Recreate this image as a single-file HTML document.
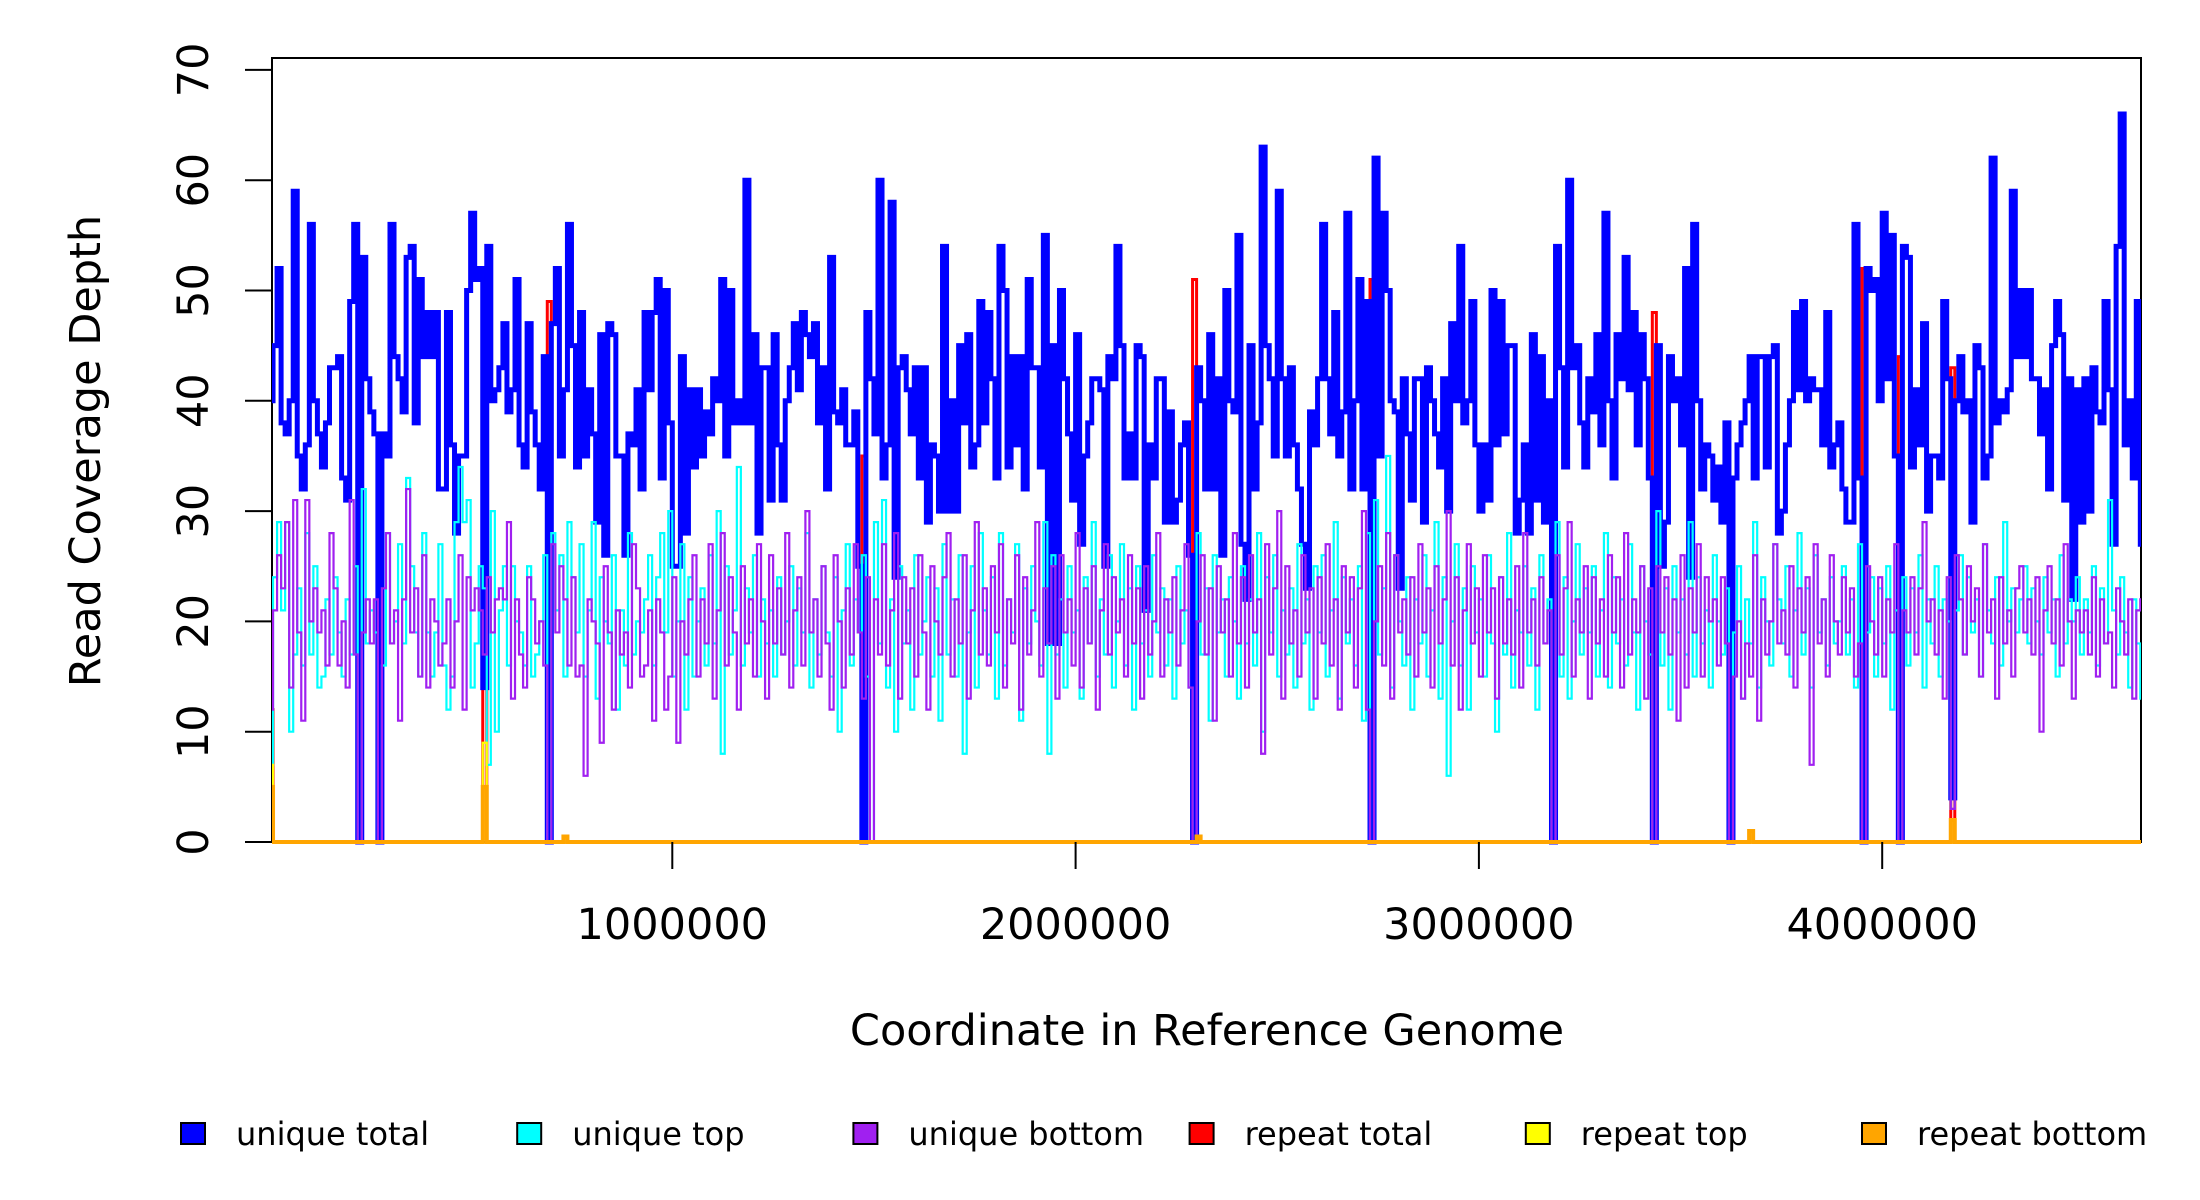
<!DOCTYPE html>
<html><head><meta charset="utf-8"><style>
html,body{margin:0;padding:0;background:#fff;}
svg{display:block;font-family:"DejaVu Sans","Liberation Sans",sans-serif;}
</style></head><body>
<svg id="chart" width="2200" height="1200" viewBox="0 0 2200 1200" xmlns="http://www.w3.org/2000/svg">
<defs><clipPath id="plotclip"><rect x="272" y="58" width="1869" height="790"/></clipPath></defs>
<rect x="0" y="0" width="2200" height="1200" fill="#fff"/>
<rect x="272" y="58" width="1869" height="784" fill="none" stroke="#000" stroke-width="2"/>
<g id="series" clip-path="url(#plotclip)"></g>
<g id="yaxis"></g>
<g id="xaxis"></g>
<text x="1207" y="1045" font-size="43" text-anchor="middle">Coordinate in Reference Genome</text>
<text x="100" y="451" font-size="43" text-anchor="middle" transform="rotate(-90 100 451)">Read Coverage Depth</text>
<g id="legend"></g>
</svg>
<script>
const binSize = 10000;
const genomeLength = 4642000;
const yTicks = [0,10,20,30,40,50,60,70];
const xTicks = [1000000,2000000,3000000,4000000];
const xTickLabels = ["1000000","2000000","3000000","4000000"];
const legendLabels = ["unique total","unique top","unique bottom","repeat total","repeat top","repeat bottom"];
const legendColors = ["#0000FF","#00FFFF","#A020F0","#FF0000","#FFFF00","#FFA500"];

const uniqueTotal = [
40,45,52,38,37,40,59,35,32,36,56,40,37,34,38,
43,43,44,33,31,49,56,0,53,42,39,37,0,37,35,
56,44,42,39,53,54,38,51,44,48,44,48,32,32,48,
36,28,35,35,50,57,51,52,14,54,40,41,43,47,39,
41,51,36,34,47,39,36,32,44,0,47,52,35,41,56,
45,34,48,35,41,37,29,46,26,47,46,35,35,26,37,
36,41,32,48,41,48,51,33,50,38,25,25,44,28,41,
34,41,35,39,37,42,40,51,35,50,38,40,38,60,38,
46,28,43,43,31,46,36,31,40,43,47,41,48,46,44,
47,38,43,32,53,39,38,41,36,36,39,25,0,48,42,
37,60,33,36,58,24,43,44,41,37,43,33,43,29,36,
35,30,54,30,40,30,45,38,46,34,36,49,38,48,42,
33,54,50,34,44,36,44,32,51,43,43,34,55,18,45,
18,50,42,37,31,46,27,35,38,42,42,41,25,44,42,
54,45,33,37,33,45,44,21,36,33,42,42,29,39,29,
31,36,38,26,0,43,40,32,46,32,42,26,50,40,39,
55,27,22,45,32,38,63,45,42,35,59,42,35,43,36,
32,27,23,39,36,42,56,42,37,48,35,39,57,32,40,
51,32,49,0,62,35,57,50,40,39,23,42,37,31,42,
42,29,43,40,37,34,42,30,47,40,54,38,40,49,36,
30,36,31,50,36,49,37,45,45,28,31,36,28,46,31,
44,29,40,0,54,43,34,60,43,45,38,34,42,39,46,
36,57,40,33,46,42,53,41,48,36,46,42,33,0,45,
25,29,44,40,42,36,52,24,56,40,32,36,35,31,34,
29,38,0,33,36,38,40,44,33,44,44,34,44,45,28,
30,36,40,48,41,49,40,42,41,41,36,48,34,36,38,
32,29,29,56,33,0,52,50,51,40,57,42,55,35,0,
54,53,34,41,36,47,30,35,35,33,49,42,4,40,44,
39,40,29,45,43,33,35,62,38,40,39,41,59,44,50,
44,50,42,42,37,41,32,45,49,46,31,42,22,41,29,
42,30,43,39,38,49,41,27,54,66,36,40,33,49,27];

const uniqueTop = [
7,24,29,21,29,10,17,23,16,28,17,25,14,15,22,
17,24,19,15,22,17,25,0,32,18,21,19,0,16,28,
18,20,27,18,33,25,19,15,28,19,15,19,27,16,12,
15,29,34,29,31,14,18,25,23,7,30,10,21,25,16,
25,20,19,16,25,15,17,20,26,0,28,21,26,15,29,
24,19,27,15,21,29,13,24,20,18,26,12,21,16,28,
17,20,19,22,26,16,24,28,19,30,15,20,27,12,24,
15,20,23,16,26,18,30,8,25,17,21,34,16,23,19,
26,15,22,18,21,15,24,17,20,25,16,23,19,28,14,
22,17,25,19,15,24,10,21,27,16,22,19,26,15,0,
29,18,31,14,22,10,25,18,21,12,26,17,20,24,15,
23,11,27,17,22,15,26,8,19,25,14,28,21,17,24,
13,28,16,22,19,27,11,23,18,25,20,16,29,8,26,
17,22,14,25,19,21,13,24,18,29,15,22,17,26,14,
20,27,16,23,12,25,18,21,15,26,19,23,16,22,13,
25,18,21,14,0,28,17,23,11,26,19,22,15,24,20,
13,25,18,22,16,28,10,24,19,26,15,21,17,23,14,
27,18,22,12,25,19,26,15,21,29,13,24,18,22,16,
25,11,28,0,31,17,23,35,14,26,20,16,24,12,22,
18,26,15,21,29,13,24,6,20,27,16,23,12,25,19,
22,15,26,18,10,24,17,28,14,21,19,25,16,23,12,
26,18,22,0,29,15,24,13,20,27,17,23,19,25,15,
21,28,14,24,18,22,16,27,19,12,25,20,17,0,30,
16,23,12,25,19,22,17,29,15,24,18,21,14,26,20,
17,23,0,19,25,13,22,18,29,14,24,20,16,27,22,
18,25,15,21,28,17,23,14,26,19,22,16,24,18,20,
25,17,22,14,27,0,19,24,15,23,18,25,12,21,0,
24,16,23,19,26,14,22,18,25,15,22,20,3,21,26,
17,24,19,22,15,27,21,18,24,16,29,20,23,19,22,
25,18,23,20,17,24,19,22,15,26,18,22,20,24,17,
22,19,25,16,23,18,31,21,17,24,19,14,22,18,13];

const uniqueBottom = [
12,21,26,23,29,14,31,19,11,31,20,23,19,21,16,
28,23,16,20,14,31,17,0,19,22,18,22,0,23,28,
18,21,11,22,32,19,23,15,26,14,22,20,16,18,22,
14,20,26,12,24,21,23,21,17,24,19,22,23,22,29,
13,22,17,14,24,22,18,20,16,0,27,19,25,22,16,
24,15,16,6,22,20,18,9,25,19,12,21,17,19,14,
27,23,15,16,21,11,22,19,12,15,24,9,20,17,22,
26,15,22,18,27,13,21,28,16,24,19,12,25,18,22,
15,27,20,13,26,18,23,17,28,14,21,24,16,30,19,
22,15,25,18,12,26,20,14,23,17,27,19,13,24,0,
22,17,27,16,21,28,13,24,18,23,15,26,19,12,25,
20,17,24,28,15,22,18,26,13,21,29,17,23,16,25,
19,27,14,22,18,26,12,24,17,21,29,15,23,18,25,
13,26,19,22,16,28,14,23,18,25,12,21,27,17,24,
19,22,15,26,18,23,13,25,17,20,28,15,22,19,24,
16,21,27,14,0,20,26,17,23,11,25,19,22,15,28,
18,24,14,26,19,22,8,27,17,23,30,13,25,18,21,
15,26,19,23,13,24,18,27,16,22,12,25,19,24,14,
23,30,12,0,20,25,16,28,13,26,19,22,17,24,15,
27,19,23,14,25,18,22,30,16,24,12,21,27,18,23,
15,26,19,23,13,24,18,22,17,25,14,28,19,22,16,
24,18,21,0,26,17,23,29,15,22,19,25,13,24,18,
22,15,26,19,24,14,28,17,22,19,25,13,23,0,25,
19,24,17,22,11,26,14,23,19,27,15,24,20,22,16,
24,18,0,15,20,13,18,15,26,11,22,17,20,27,18,
21,17,25,14,23,19,24,7,27,18,22,15,26,20,17,
24,19,23,15,18,0,25,20,17,24,15,22,19,27,0,
21,19,24,17,23,29,20,22,17,21,13,24,3,26,22,
17,25,20,23,15,27,19,22,13,24,18,21,15,23,25,
19,22,17,24,10,21,25,18,22,16,27,20,13,21,19,
21,17,24,15,22,18,19,14,23,20,17,22,13,21,22];

const repeatTotalBins = [0,22,53,69,73,147,229,230,273,343,367,395,404,417];
const repeatTotalVals = [12,51,14,49,0.5,35,51,0.5,51,48,1,52,44,43];
const repeatTopBins = [0,53];
const repeatTopVals = [7,9];
const repeatBottomBins = [0,53,73,230,367,417];
const repeatBottomVals = [5,5,0.5,0.5,1,2];

const NS = "http://www.w3.org/2000/svg";
function xScale(pos){ return 269 + pos * 403.3e-6; }
function yScale(v){ return 842 - v * 11.03; }
const nBins = Math.ceil(genomeLength / binSize);

function denseFromSparse(bins, vals){
  const arr = new Array(nBins).fill(0);
  bins.forEach((b,k)=>{ arr[b] = vals[k]; });
  return arr;
}
function stepPath(vals){
  let d = "";
  for (let i=0;i<vals.length;i++){
    const x0 = xScale(i*binSize), x1 = xScale(Math.min((i+1)*binSize, genomeLength));
    const y = yScale(vals[i]);
    d += (i===0 ? "M" : "L") + x0.toFixed(2) + "," + y.toFixed(2) + "L" + x1.toFixed(2) + "," + y.toFixed(2);
  }
  return d;
}
const seriesG = document.getElementById('series');
function addSeries(vals, color, width, name){
  const p = document.createElementNS(NS,'path');
  p.setAttribute('d', stepPath(vals));
  p.setAttribute('fill','none');
  p.setAttribute('stroke', color);
  p.setAttribute('stroke-width', width);
  p.setAttribute('stroke-linejoin','miter');
  
  
  seriesG.appendChild(p);
}
addSeries(denseFromSparse(repeatTotalBins, repeatTotalVals), "#FF0000", 3, "repeat-total-line");
addSeries(uniqueTotal, "#0000FF", 5, "unique-total-line");
addSeries(uniqueTop, "#00FFFF", 2.2, "unique-top-line");
addSeries(uniqueBottom, "#A020F0", 2.2, "unique-bottom-line");
addSeries(denseFromSparse(repeatTopBins, repeatTopVals), "#FFFF00", 2.2, "repeat-top-line");
addSeries(denseFromSparse(repeatBottomBins, repeatBottomVals), "#FFA500", 4, "repeat-bottom-line");

const yAxis = document.getElementById('yaxis');
yTicks.forEach(t=>{
  const y = yScale(t);
  const l = document.createElementNS(NS,'line');
  l.setAttribute('x1',245); l.setAttribute('x2',272); l.setAttribute('y1',y); l.setAttribute('y2',y);
  l.setAttribute('stroke','#000'); l.setAttribute('stroke-width',2);
  
  
  yAxis.appendChild(l);
  const tx = document.createElementNS(NS,'text');
  tx.setAttribute('x',208); tx.setAttribute('y',y);
  tx.setAttribute('font-size',43); tx.setAttribute('text-anchor','middle');
  tx.setAttribute('transform','rotate(-90 208 '+y+')');
  tx.textContent = String(t);
  
  
  yAxis.appendChild(tx);
});
const xAxis = document.getElementById('xaxis');
xTicks.forEach((t,k)=>{
  const x = xScale(t);
  const l = document.createElementNS(NS,'line');
  l.setAttribute('x1',x); l.setAttribute('x2',x); l.setAttribute('y1',842); l.setAttribute('y2',869);
  l.setAttribute('stroke','#000'); l.setAttribute('stroke-width',2);
  
  
  xAxis.appendChild(l);
  const tx = document.createElementNS(NS,'text');
  tx.setAttribute('x',x); tx.setAttribute('y',939);
  tx.setAttribute('font-size',43); tx.setAttribute('text-anchor','middle');
  tx.textContent = xTickLabels[k];
  
  
  xAxis.appendChild(tx);
});
const legend = document.getElementById('legend');
legendLabels.forEach((lab,k)=>{
  const x = 181 + k*336.2;
  const g = document.createElementNS(NS,'g');
  
  
  const r = document.createElementNS(NS,'rect');
  r.setAttribute('x',x); r.setAttribute('y',1123); r.setAttribute('width',24); r.setAttribute('height',21);
  r.setAttribute('fill',legendColors[k]); r.setAttribute('stroke','#000'); r.setAttribute('stroke-width',2);
  
  
  g.appendChild(r);
  const tx = document.createElementNS(NS,'text');
  tx.setAttribute('x',x+55); tx.setAttribute('y',1145);
  tx.setAttribute('font-size',32);
  tx.textContent = lab;
  
  
  g.appendChild(tx);
  legend.appendChild(g);
});
</script>
</body></html>
